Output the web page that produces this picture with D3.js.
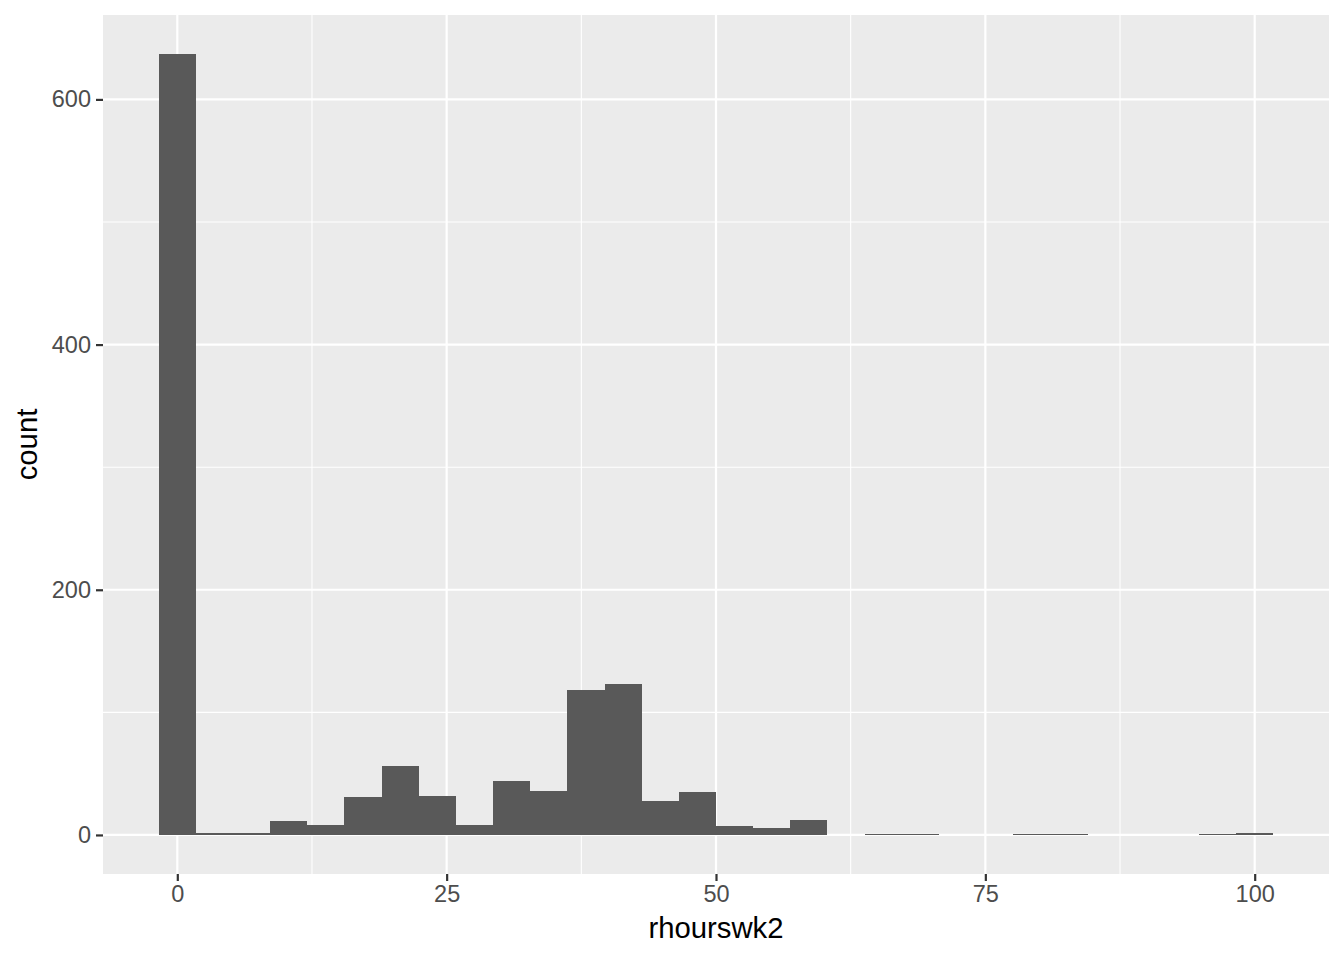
<!DOCTYPE html>
<html>
<head>
<meta charset="utf-8">
<script src="https://cdn.jsdelivr.net/npm/d3@7"></script>
<style>
  body { margin: 0; background: #fff; }
  svg { display: block; }
  text { font-family: "Liberation Sans", Arial, sans-serif; }
</style>
</head>
<body>
<svg id="chart" width="1344" height="960"></svg>
<script>
// histogram of rhourswk2, 30 bins (ggplot default), bin width 100/29
var binWidth = 100 / 29;
var counts = [637, 2, 2, 11, 8, 31, 56, 32, 8, 44, 36, 118, 123, 28, 35,
              7, 6, 12, 0, 1, 1, 0, 0, 1, 1, 0, 0, 0, 1, 2];
var xTicks = [0, 25, 50, 75, 100];
var xMinor = [12.5, 37.5, 62.5, 87.5];
var yTicks = [0, 200, 400, 600];
var yMinor = [100, 300, 500];

var bins = counts.map(function(c, i) {
    return {x0: i * binWidth - binWidth / 2, x1: i * binWidth + binWidth / 2, count: c};
});

var svg = d3.select("#chart");
var panel = {left: 103, right: 1329, top: 15, bottom: 874};

// ggplot-style 5% expansion
var xlo = bins[0].x0, xhi = bins[bins.length - 1].x1;
var xpad = (xhi - xlo) * 0.05;
var ymax = d3.max(counts), ypad = ymax * 0.05;

var x = d3.scaleLinear().domain([xlo - xpad, xhi + xpad]).range([panel.left, panel.right]);
var y = d3.scaleLinear().domain([-ypad, ymax + ypad]).range([panel.bottom, panel.top]);

svg.append("rect")
    .attr("x", panel.left).attr("y", panel.top)
    .attr("width", panel.right - panel.left).attr("height", panel.bottom - panel.top)
    .attr("fill", "#EBEBEB");

var grid = svg.append("g");
grid.selectAll(".xminor").data(xMinor).enter().append("line")
    .attr("x1", d => x(d)).attr("x2", d => x(d))
    .attr("y1", panel.top).attr("y2", panel.bottom)
    .attr("stroke", "#fff").attr("stroke-width", 1.1);
grid.selectAll(".yminor").data(yMinor).enter().append("line")
    .attr("y1", d => y(d)).attr("y2", d => y(d))
    .attr("x1", panel.left).attr("x2", panel.right)
    .attr("stroke", "#fff").attr("stroke-width", 1.1);
grid.selectAll(".xmajor").data(xTicks).enter().append("line")
    .attr("x1", d => x(d)).attr("x2", d => x(d))
    .attr("y1", panel.top).attr("y2", panel.bottom)
    .attr("stroke", "#fff").attr("stroke-width", 2.2);
grid.selectAll(".ymajor").data(yTicks).enter().append("line")
    .attr("y1", d => y(d)).attr("y2", d => y(d))
    .attr("x1", panel.left).attr("x2", panel.right)
    .attr("stroke", "#fff").attr("stroke-width", 2.2);

// bars: crisp edges so neighbouring bins don't show seams
svg.append("g").attr("shape-rendering", "crispEdges")
    .selectAll("rect").data(bins).enter().append("rect")
    .attr("x", d => x(d.x0))
    .attr("width", d => x(d.x1) - x(d.x0))
    .attr("y", d => y(d.count))
    .attr("height", d => y(0) - y(d.count))
    .attr("fill", "#595959");

// axes
var xAxis = d3.axisBottom(x).tickValues(xTicks).tickSize(7).tickPadding(4);
var gx = svg.append("g").attr("transform", "translate(0," + panel.bottom + ")").call(xAxis);
gx.select(".domain").remove();
gx.selectAll(".tick line").attr("stroke", "#333333").attr("stroke-width", 2.2);
gx.selectAll(".tick text").attr("fill", "#4D4D4D").style("font-size", "23.5px");

var yAxis = d3.axisLeft(y).tickValues(yTicks).tickSize(7).tickPadding(5);
var gy = svg.append("g").attr("transform", "translate(" + panel.left + ",0)").call(yAxis);
gy.select(".domain").remove();
gy.selectAll(".tick line").attr("stroke", "#333333").attr("stroke-width", 2.2);
gy.selectAll(".tick text").attr("fill", "#4D4D4D").style("font-size", "23.5px");

svg.append("text")
    .attr("x", (panel.left + panel.right) / 2).attr("y", 938)
    .attr("text-anchor", "middle")
    .style("font-size", "29.3px").attr("fill", "#000")
    .text("rhourswk2");

svg.append("text")
    .attr("transform", "translate(37," + (panel.top + panel.bottom) / 2 + ") rotate(-90)")
    .attr("text-anchor", "middle")
    .style("font-size", "29.3px").attr("fill", "#000")
    .text("count");
</script>
</body>
</html>
